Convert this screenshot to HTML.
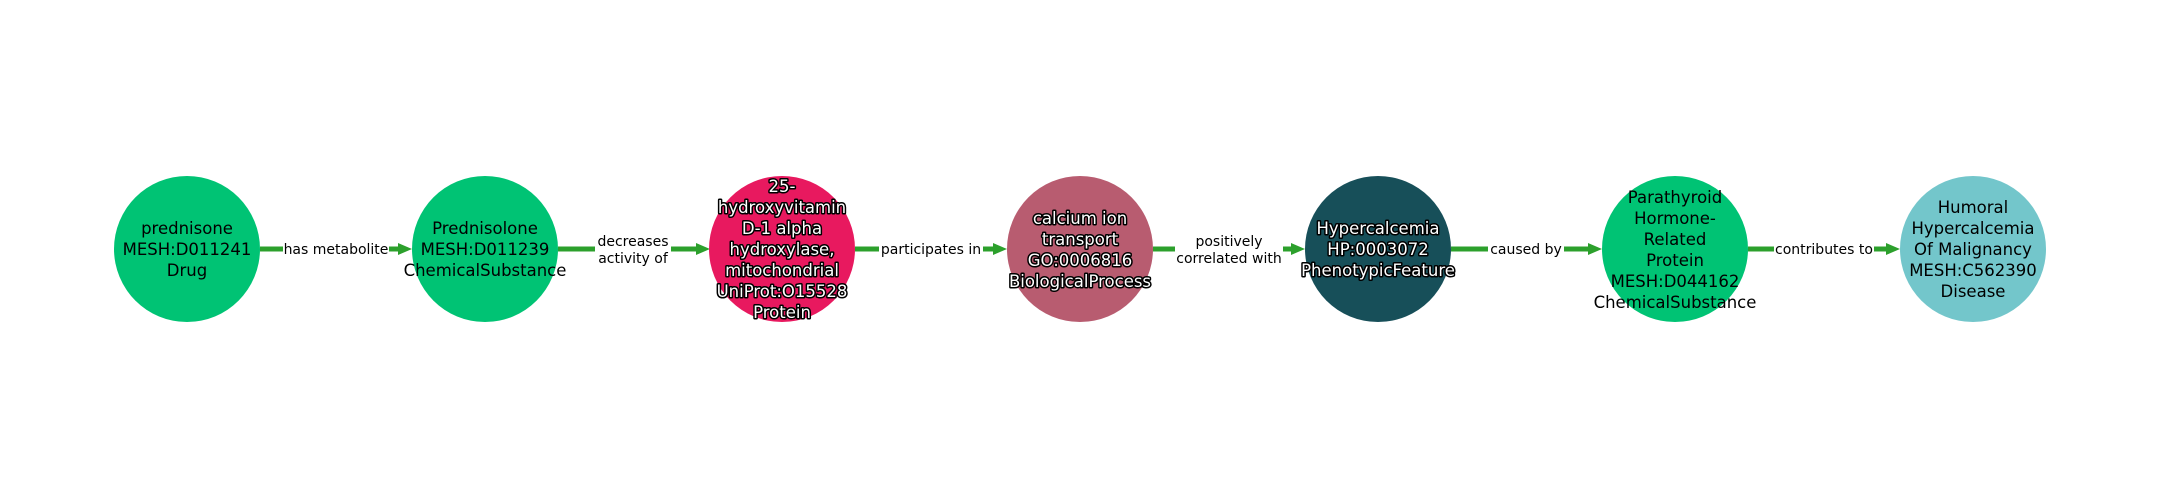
<!DOCTYPE html>
<html><head><meta charset="utf-8"><style>
html,body{margin:0;padding:0;background:#fff;}
svg{display:block;}
.n{font-family:"DejaVu Sans","Liberation Sans",sans-serif;font-size:16.5px;text-anchor:middle;fill:#000;}
.w{fill:#fff;stroke:#000;stroke-width:3px;paint-order:stroke;stroke-linejoin:round;}
.e{font-family:"DejaVu Sans","Liberation Sans",sans-serif;font-size:14px;text-anchor:middle;fill:#000;}
</style></head><body>
<svg width="2160" height="500" viewBox="0 0 2160 500">
<g stroke="#2ca02c" stroke-width="5">
<line x1="260" y1="249" x2="402" y2="249"/>
<line x1="558" y1="249" x2="700" y2="249"/>
<line x1="855" y1="249" x2="997" y2="249"/>
<line x1="1153" y1="249" x2="1295" y2="249"/>
<line x1="1451" y1="249" x2="1592" y2="249"/>
<line x1="1748" y1="249" x2="1890" y2="249"/>
</g>
<g fill="#2ca02c">
<polygon points="398,243 412,249 398,255"/>
<polygon points="696,243 710,249 696,255"/>
<polygon points="993,243 1007,249 993,255"/>
<polygon points="1291,243 1305,249 1291,255"/>
<polygon points="1588,243 1602,249 1588,255"/>
<polygon points="1886,243 1900,249 1886,255"/>
</g>
<g fill="#fff">
<rect x="283" y="238" width="106" height="22"/>
<rect x="595" y="228" width="76" height="42"/>
<rect x="879" y="238" width="104" height="22"/>
<rect x="1175" y="228" width="108" height="42"/>
<rect x="1488" y="238" width="76" height="22"/>
<rect x="1774" y="238" width="100" height="22"/>
</g>
<text class="e" x="336" y="254">has metabolite</text>
<text class="e" x="633" y="246">decreases</text>
<text class="e" x="633" y="263">activity of</text>
<text class="e" x="931" y="254">participates in</text>
<text class="e" x="1229" y="246">positively</text>
<text class="e" x="1229" y="263">correlated with</text>
<text class="e" x="1526" y="254">caused by</text>
<text class="e" x="1824" y="254">contributes to</text>

<circle cx="187" cy="249" r="73" fill="#00c374"/>
<circle cx="485" cy="249" r="73" fill="#00c374"/>
<circle cx="782" cy="249" r="73" fill="#e8195f"/>
<circle cx="1080" cy="249" r="73" fill="#b85c70"/>
<circle cx="1378" cy="249" r="73" fill="#174f59"/>
<circle cx="1675" cy="249" r="73" fill="#00c374"/>
<circle cx="1973" cy="249" r="73" fill="#73c6cb"/>

<text class="n" x="187" y="234">prednisone</text>
<text class="n" x="187" y="255">MESH:D011241</text>
<text class="n" x="187" y="276">Drug</text>

<text class="n" x="485" y="234">Prednisolone</text>
<text class="n" x="485" y="255">MESH:D011239</text>
<text class="n" x="485" y="276">ChemicalSubstance</text>

<g class="n w">
<text x="782" y="192">25-</text>
<text x="782" y="213">hydroxyvitamin</text>
<text x="782" y="234">D-1 alpha</text>
<text x="782" y="255">hydroxylase,</text>
<text x="782" y="276">mitochondrial</text>
<text x="782" y="297">UniProt:O15528</text>
<text x="782" y="318">Protein</text>

<text x="1080" y="224">calcium ion</text>
<text x="1080" y="245">transport</text>
<text x="1080" y="266">GO:0006816</text>
<text x="1080" y="287">BiologicalProcess</text>

<text x="1378" y="234">Hypercalcemia</text>
<text x="1378" y="255">HP:0003072</text>
<text x="1378" y="276">PhenotypicFeature</text>
</g>

<text class="n" x="1675" y="203">Parathyroid</text>
<text class="n" x="1675" y="224">Hormone-</text>
<text class="n" x="1675" y="245">Related</text>
<text class="n" x="1675" y="266">Protein</text>
<text class="n" x="1675" y="287">MESH:D044162</text>
<text class="n" x="1675" y="308">ChemicalSubstance</text>

<text class="n" x="1973" y="213">Humoral</text>
<text class="n" x="1973" y="234">Hypercalcemia</text>
<text class="n" x="1973" y="255">Of Malignancy</text>
<text class="n" x="1973" y="276">MESH:C562390</text>
<text class="n" x="1973" y="297">Disease</text>
</svg>
</body></html>
